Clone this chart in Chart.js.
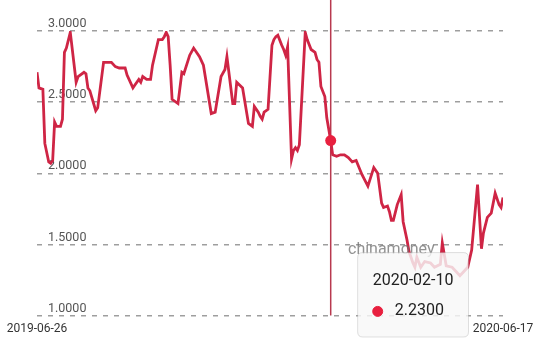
<!DOCTYPE html>
<html>
<head>
<meta charset="utf-8">
<script src="https://cdn.jsdelivr.net/npm/chart.js@4"></script>
<style>
  html, body { margin: 0; padding: 0; background: #fff; }
  #wrap { width: 550px; height: 346px; }
</style>
</head>
<body>
<div id="wrap"><canvas id="rateChart"></canvas></div>
<script>
// trading calendar: weekdays between these dates, minus market holidays
const firstDay = '2019-06-26';
const lastDay = '2020-06-17';
const holidays = [
  '2019-09-13', '2019-10-01', '2019-10-02', '2019-10-03', '2019-10-04', '2019-10-07',
  '2020-01-01', '2020-01-24', '2020-01-27', '2020-01-28', '2020-01-29', '2020-01-30',
  '2020-01-31', '2020-04-06', '2020-05-01', '2020-05-04', '2020-05-05'
];

// trading-day index of each reading
const tradeIdx = [
  0, 1, 3, 4, 6, 7, 8, 9, 10, 12,
  13, 14, 15, 17, 20, 21, 24, 25, 26, 27,
  30, 31, 34, 36, 38, 40, 42, 45, 46, 49,
  50, 52, 53, 54, 56, 58, 59, 62, 64, 65,
  66, 67, 68, 69, 72, 74, 75, 78, 80, 83,
  85, 89, 91, 94, 96, 97, 100, 101, 102, 105,
  108, 110, 111, 113, 114, 115, 116, 118, 120, 121,
  122, 123, 125, 126, 127, 128, 130, 131, 132, 133,
  134, 137, 138, 140, 142, 143, 144, 145, 147, 148,
  150,
  151, 153, 155, 157, 159, 161, 163, 166, 169, 172,
  174, 176, 177, 179, 180, 181, 182, 184, 186, 187,
  189, 190, 192, 193, 194, 196, 198, 201, 203, 206,
  207, 209, 212, 216, 218, 220, 222, 225, 227, 228,
  230, 232, 234, 236, 237, 238
];

// rate values (%)
const rates = [
  2.71, 2.60, 2.59, 2.21, 2.08, 2.07, 2.09, 2.36, 2.33, 2.33,
  2.38, 2.85, 2.88, 2.99, 2.64, 2.68, 2.71, 2.70, 2.60, 2.58,
  2.44, 2.46, 2.78, 2.78, 2.78, 2.75, 2.74, 2.74, 2.69, 2.60,
  2.62, 2.66, 2.64, 2.68, 2.66, 2.66, 2.76, 2.94, 2.94, 2.96,
  2.99, 2.96, 2.76, 2.52, 2.49, 2.71, 2.70, 2.83, 2.88, 2.82,
  2.76, 2.42, 2.43, 2.68, 2.73, 2.82, 2.49, 2.49, 2.64, 2.60,
  2.35, 2.33, 2.47, 2.43, 2.40, 2.38, 2.43, 2.45, 2.90, 2.94,
  2.96, 2.97, 2.90, 2.87, 2.83, 2.89, 2.10, 2.16, 2.18, 2.16,
  2.20, 2.99, 2.94, 2.87, 2.85, 2.80, 2.78, 2.61, 2.54, 2.39,
  2.23,
  2.13, 2.12, 2.13, 2.13, 2.11, 2.08, 2.09, 1.99, 1.91, 2.04,
  2.00, 1.79, 1.76, 1.77, 1.73, 1.67, 1.67, 1.78, 1.85, 1.66,
  1.53, 1.45, 1.37, 1.34, 1.41, 1.34, 1.38, 1.37, 1.34, 1.36,
  1.51, 1.35, 1.34, 1.28, 1.31, 1.34, 1.46, 1.92, 1.47, 1.58,
  1.69, 1.72, 1.86, 1.78, 1.76, 1.83
];

const yTicks = [1.0, 1.5, 2.0, 2.5, 3.0];
const selectedDate = '2020-02-10';

const lineColor = '#cf2545';
const dotColor = '#e8203f';

function fmt(dt) {
  const mm = String(dt.getMonth() + 1).padStart(2, '0');
  const dd = String(dt.getDate()).padStart(2, '0');
  return dt.getFullYear() + '-' + mm + '-' + dd;
}

const tradeDates = [];
{
  const [y0, m0, d0] = firstDay.split('-').map(Number);
  const dt = new Date(y0, m0 - 1, d0);
  while (fmt(dt) <= lastDay) {
    const wd = dt.getDay();
    const s = fmt(dt);
    if (wd !== 0 && wd !== 6 && !holidays.includes(s)) tradeDates.push(s);
    dt.setDate(dt.getDate() + 1);
  }
}
const lastIdx = tradeDates.length - 1;

Chart.defaults.font.family = 'Roboto, "Noto Sans", sans-serif';

// tooltip sits to the right of the point, near the bottom of the plot
Chart.Tooltip.positioners.nearBottom = function(items) {
  if (!items.length) return false;
  const area = this.chart.chartArea;
  return { x: items[0].element.x + 32, y: area.bottom - 63, xAlign: 'left', yAlign: 'top' };
};

// vertical cursor line + watermark
const cursorPlugin = {
  id: 'cursor',
  beforeDatasetsDraw(chart) {
    const act = chart.getActiveElements();
    if (!act.length) return;
    const ctx = chart.ctx;
    const x = act[0].element.x;
    ctx.save();
    ctx.strokeStyle = '#b8394f';
    ctx.lineWidth = 1.5;
    ctx.beginPath();
    ctx.moveTo(x, 0);
    ctx.lineTo(x, chart.chartArea.bottom);
    ctx.stroke();
    ctx.restore();
  },
  afterDatasetsDraw(chart) {
    const ctx = chart.ctx;
    const area = chart.chartArea;
    ctx.save();
    ctx.font = '16px Roboto';
    ctx.fillStyle = 'rgba(110,110,110,0.75)';
    ctx.textBaseline = 'middle';
    ctx.fillText('chinamoney', area.left + 311, area.bottom - 66);
    ctx.restore();
  }
};

const points = tradeIdx.map((d, i) => ({ x: d, y: rates[i] }));

const chart = new Chart(document.getElementById('rateChart'), {
  type: 'line',
  data: {
    datasets: [{
      data: points,
      borderColor: lineColor,
      borderWidth: 2.8,
      tension: 0,
      pointRadius: 0,
      pointHoverRadius: 5.5,
      pointHoverBorderWidth: 0,
      pointHoverBackgroundColor: dotColor,
      pointBackgroundColor: dotColor
    }]
  },
  options: {
    responsive: true,
    maintainAspectRatio: false,
    animation: false,
    events: [],
    layout: { padding: { left: 15, right: 47, top: 31, bottom: 4 } },
    scales: {
      x: {
        type: 'linear',
        min: 0,
        max: lastIdx,
        afterBuildTicks: (scale) => { scale.ticks = [{ value: 0 }, { value: lastIdx }]; },
        grid: { display: false, drawTicks: false },
        border: { display: false },
        ticks: {
          autoSkip: false,
          maxRotation: 0,
          padding: 6,
          color: '#333',
          font: { size: 12 },
          callback: (v) => tradeDates[v]
        }
      },
      y: {
        min: 1,
        max: 3,
        afterBuildTicks: (scale) => { scale.ticks = yTicks.map(v => ({ value: v })); },
        grid: { color: 'rgba(0,0,0,0.38)', lineWidth: 1.5, drawTicks: false },
        border: { display: false, dash: [5, 6] },
        ticks: {
          mirror: true,
          padding: 11,
          labelOffset: -7,
          color: '#555',
          font: { size: 12.5 },
          callback: (v) => Number(v).toFixed(4)
        }
      }
    },
    plugins: {
      legend: { display: false },
      tooltip: {
        position: 'nearBottom',
        xAlign: 'left',
        yAlign: 'top',
        caretSize: 0,
        caretPadding: 0,
        cornerRadius: 5,
        backgroundColor: 'rgba(248,248,248,0.82)',
        borderColor: 'rgba(0,0,0,0.12)',
        borderWidth: 1,
        padding: { top: 19, bottom: 16, left: 15, right: 15 },
        titleColor: '#222',
        titleFont: { size: 16, weight: 'normal' },
        titleMarginBottom: 11,
        bodyColor: '#222',
        bodyFont: { size: 16 },
        displayColors: true,
        usePointStyle: true,
        boxWidth: 10,
        boxHeight: 10,
        boxPadding: 10,
        callbacks: {
          title: (items) => tradeDates[items[0].parsed.x],
          label: (item) => item.parsed.y.toFixed(4),
          labelColor: () => ({ borderColor: dotColor, backgroundColor: dotColor }),
          labelPointStyle: () => ({ pointStyle: 'circle', rotation: 0 })
        }
      }
    }
  },
  plugins: [cursorPlugin]
});

// highlight the selected date as in the screenshot
const selIndex = tradeIdx.indexOf(tradeDates.indexOf(selectedDate));
if (selIndex >= 0) {
  const el = chart.getDatasetMeta(0).data[selIndex];
  chart.setActiveElements([{ datasetIndex: 0, index: selIndex }]);
  chart.tooltip.setActiveElements([{ datasetIndex: 0, index: selIndex }], { x: el.x, y: el.y });
  chart.update();
}
</script>
</body>
</html>
